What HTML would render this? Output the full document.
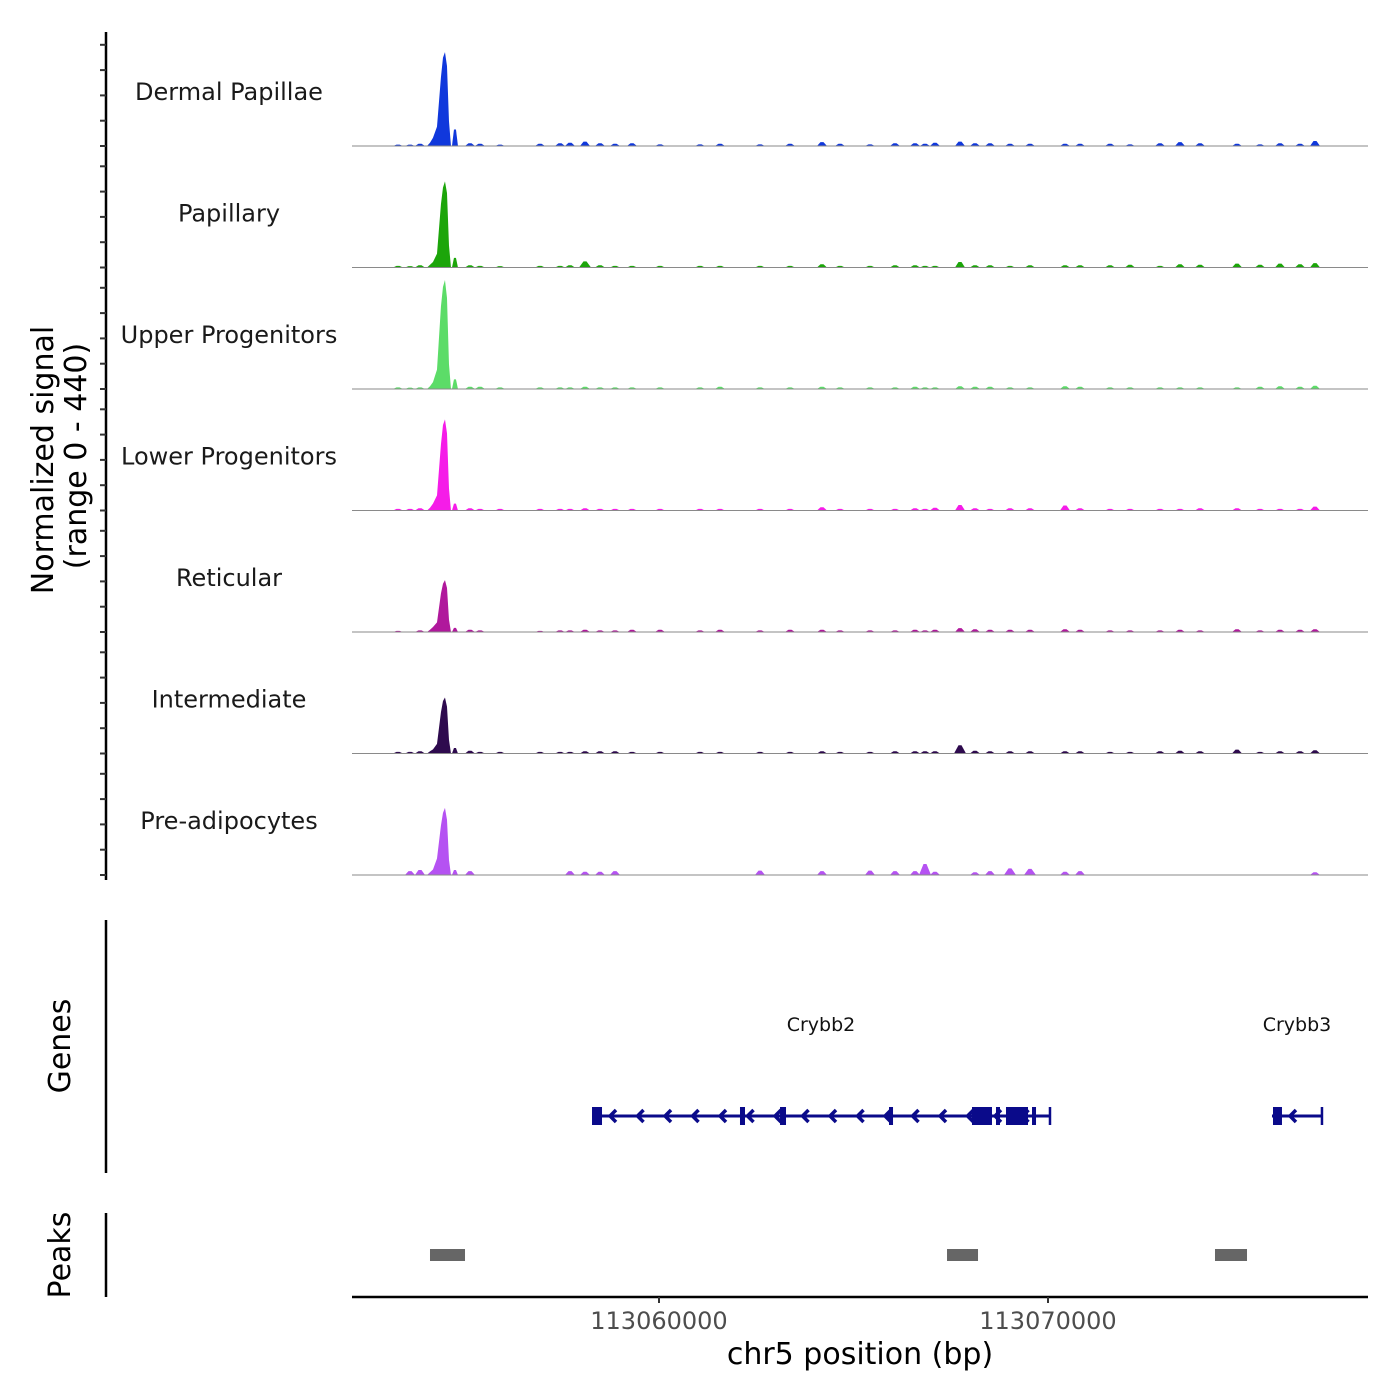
<!DOCTYPE html>
<html><head><meta charset="utf-8">
<style>
html,body{margin:0;padding:0;background:#fff;}
svg{display:block;font-family:"DejaVu Sans","Liberation Sans",sans-serif;}
</style></head>
<body>
<svg id="chart" width="1400" height="1400" viewBox="0 0 1400 1400">
<g id="axes"></g><g id="tracks"></g><g id="genes"></g><g id="peaks"></g>
</svg>
<script>
// ---- data ----
const trackNames = ["Dermal Papillae","Papillary","Upper Progenitors","Lower Progenitors","Reticular","Intermediate","Pre-adipocytes"];
const trackColors = ["#1038dc","#1ca50a","#5cdc68","#f51ce8","#b0189c","#2e0a4e","#b552f2"];
const mainPos = [113054113,113054190,113054293,113054395,113054447,113054498,113054550,113054601,113054755];
const mainVals = [
  [12,30,70,250,320,340,290,90,60],
  [10,20,50,230,290,312,270,80,35],
  [10,25,70,300,370,395,330,90,35],
  [10,25,55,240,310,330,280,80,25],
  [8,18,35,140,175,188,160,45,15],
  [8,15,35,150,190,203,170,50,20],
  [10,20,60,180,225,243,200,55,18]
];
const smallPos = [113053291,113053599,113053856,113055141,113055398,113055913,113056941,113057455,113057712,113058098,113058483,113058869,113059306,113060026,113061054,113061568,113062596,113063368,113064190,113064653,113065424,113066067,113066581,113066838,113067095,113067738,113068123,113068509,113069023,113069537,113070437,113070823,113071594,113072108,113072879,113073393,113073908,113074859,113075450,113075964,113076478,113076864];
const smallVals = [
  [5,5,8,10,8,5,8,10,12,16,10,8,10,6,6,8,6,8,14,8,6,10,10,8,12,16,10,10,8,8,8,8,8,6,10,14,10,8,6,10,8,18],
  [6,5,8,8,6,5,6,6,8,22,8,6,6,6,6,6,6,6,12,6,6,8,8,6,6,20,8,8,6,8,8,8,8,10,6,12,10,14,10,14,12,16],
  [6,5,6,8,8,6,6,6,6,8,6,6,6,6,6,8,6,6,8,6,6,6,8,6,6,10,8,8,6,6,10,8,6,6,6,6,6,6,8,10,8,12],
  [6,6,8,8,6,6,6,6,6,8,6,6,6,6,6,6,6,6,12,6,6,6,8,6,10,20,8,6,8,8,18,8,6,6,6,6,8,8,6,6,6,14],
  [4,0,6,8,6,0,4,6,6,8,6,6,8,8,6,8,6,8,8,6,6,6,8,6,8,14,10,8,8,8,10,8,6,6,6,8,6,10,6,8,8,10],
  [6,6,8,10,6,6,6,6,6,8,8,8,6,6,6,6,6,6,8,6,6,8,8,8,8,30,10,8,8,8,8,8,6,6,8,10,8,14,6,8,8,12],
  [0,14,18,14,0,0,0,0,14,12,12,14,0,0,0,0,16,0,14,0,16,14,14,40,12,0,10,14,24,22,12,14,0,0,0,0,0,0,0,0,0,10]
];
const geneNames = ["Crybb2","Crybb3"];
const geneStarts = [113058278,113075758];
const geneEnds = [113070051,113077043];
const exonStarts = [113058278,113062082,113063111,113065913,113068046,113068663,113068920,113069589,113075784];
const exonEnds = [113058535,113062211,113063265,113066016,113068560,113068766,113069486,113069692,113076015];
const peakStarts = [113054113,113067404,113074293];
const peakEnds = [113055013,113068201,113075116];
const xTicks = [113060000,113070000];

// ---- scales ----
const X0=352,X1=1368, BP0=113052108, PXPB=0.0389;
const xs = bp => X0 + (bp-BP0)*PXPB;
const base0=146, step=121.5, ypu=0.276;
const NS="http://www.w3.org/2000/svg";
function mk(parent,tag,attrs){const e=document.createElementNS(NS,tag);for(const k in attrs)e.setAttribute(k,attrs[k]);parent.appendChild(e);return e;}
const axes=document.getElementById('axes'),tracks=document.getElementById('tracks'),genes=document.getElementById('genes'),peaks=document.getElementById('peaks');

// left axis
let l=mk(axes,'line',{x1:106,y1:32,x2:106,y2:880,stroke:'#000','stroke-width':2.5});


for(let t=0;t<7;t++){const b=base0+t*step;for(let k=0;k<5;k++){const y=b-k*25.3;if(y<32)continue;
 const tk=mk(axes,'line',{x1:100,y1:y,x2:106,y2:y,stroke:'#333','stroke-width':2});
 
 }}
let yt=mk(axes,'text',{transform:'translate(53,460) rotate(-90)','text-anchor':'middle','font-size':30});
yt.textContent='Normalized signal';


let yt2=mk(axes,'text',{transform:'translate(86,456) rotate(-90)','text-anchor':'middle','font-size':30});
yt2.textContent='(range 0 - 440)';



// tracks
trackNames.forEach((name,t)=>{
 const b=base0+t*step;
 const g=mk(tracks,'g',{});
 
 
 const lab=mk(g,'text',{x:229,y:b-46,'text-anchor':'middle','font-size':24,fill:'#1a1a1a'});
 lab.textContent=name;
 
 
 let pts=[[xs(mainPos[0])-3,b]];
 for(let i=0;i<8;i++) pts.push([xs(mainPos[i]),b-mainVals[t][i]*ypu]);
 pts.push([xs(mainPos[7])+2,b]);
 const mp=mk(g,'polygon',{points:pts.map(q=>q.join(',')).join(' '),fill:trackColors[t]});
 
 
 const sx=xs(mainPos[8]),sv=mainVals[t][8]*ypu;
 const sp=mk(g,'polygon',{points:`${sx-3},${b} ${sx-1},${b-sv} ${sx+1},${b-sv} ${sx+3},${b}`,fill:trackColors[t]});
 
 
 smallPos.forEach((p,i)=>{const v=smallVals[t][i]; if(!v)return; const x=xs(p),w=v>20?6:5;
  const s=mk(g,'polygon',{points:`${x-w},${b} ${x-1.5},${b-v*ypu} ${x+1.5},${b-v*ypu} ${x+w},${b}`,fill:trackColors[t]});
  
  });
 const bl=mk(g,'line',{x1:X0,y1:b,x2:X1,y2:b,stroke:'#8a8a8a','stroke-width':1});
 
 
});

// genes
let gl=mk(genes,'line',{x1:106,y1:920,x2:106,y2:1173,stroke:'#000','stroke-width':2.5});


let gt=mk(genes,'text',{transform:'translate(70,1046) rotate(-90)','text-anchor':'middle','font-size':30});
gt.textContent='Genes';


const GY=1116,C='#0a0a8a';
geneNames.forEach((n,i)=>{
 const a=xs(geneStarts[i]),e=xs(geneEnds[i]);
 const gg=mk(genes,'g',{});
 
 
 mk(gg,'line',{x1:a,y1:GY,x2:e,y2:GY,stroke:C,'stroke-width':3});
 mk(gg,'line',{x1:e,y1:GY-9,x2:e,y2:GY+9,stroke:C,'stroke-width':2.5});
 for(let x=a+18;x<e-6;x+=27.5){mk(gg,'polyline',{points:`${x+6},${GY-6} ${x},${GY} ${x+6},${GY+6}`,fill:'none',stroke:C,'stroke-width':3.5});}
 const tl=mk(genes,'text',{x:(a+e)/2,y:1031,'text-anchor':'middle','font-size':19,fill:'#111'});
 tl.textContent=n;
 
 
});
exonStarts.forEach((s,i)=>{const a=xs(s),e=xs(exonEnds[i]);
 const r=mk(genes,'rect',{x:a,y:GY-9,width:Math.max(e-a,3),height:18,fill:C});
 
 });

// peaks
let pl=mk(peaks,'line',{x1:106,y1:1213,x2:106,y2:1297,stroke:'#000','stroke-width':2.5});


let pt=mk(peaks,'text',{transform:'translate(70,1255) rotate(-90)','text-anchor':'middle','font-size':30});
pt.textContent='Peaks';


peakStarts.forEach((s,i)=>{const a=xs(s),e=xs(peakEnds[i]);
 const r=mk(peaks,'rect',{x:a,y:1249,width:e-a,height:12,fill:'#666'});
 
 });

// x axis
let xa=mk(peaks,'line',{x1:X0,y1:1297,x2:X1,y2:1297,stroke:'#000','stroke-width':2.5});


xTicks.forEach(v=>{const x=xs(v);
 const tk=mk(peaks,'line',{x1:x,y1:1297,x2:x,y2:1303,stroke:'#333','stroke-width':2});
 
 
 const tx=mk(peaks,'text',{x:x,y:1329,'text-anchor':'middle','font-size':24,fill:'#4d4d4d'});
 tx.textContent=String(v);
 
 });
let xt=mk(peaks,'text',{x:860,y:1364,'text-anchor':'middle','font-size':30});
xt.textContent='chr5 position (bp)';


</script>
</body></html>
